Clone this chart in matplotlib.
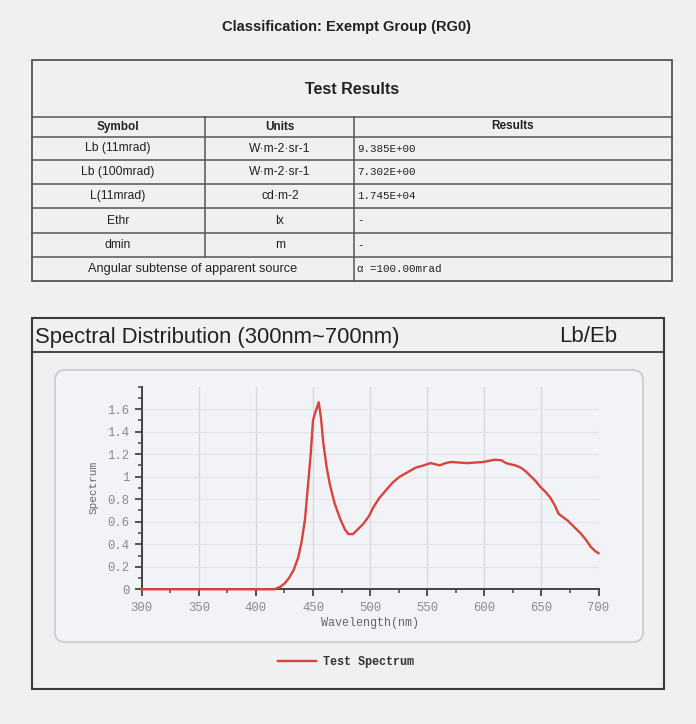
import numpy as np
import matplotlib.pyplot as plt
from matplotlib.patches import FancyBboxPatch, Rectangle
from matplotlib.ticker import MultipleLocator, FuncFormatter

# table contents
symbols = ["Lb (11mrad)", "Lb (100mrad)", "L(11mrad)", "Ethr", "dmin"]
units = ["W\u00b7m-2\u00b7sr-1", "W\u00b7m-2\u00b7sr-1", "cd\u00b7m-2", "lx", "m"]
results = ["9.385E+00", "7.302E+00", "1.745E+04", "-", "-"]
last_label = "Angular subtense of apparent source"
last_result = "\u03b1 =100.00mrad"

# spectrum
wavelength = [300, 320, 340, 360, 380, 400, 416, 421, 425, 429, 433, 437, 440,
              443, 445, 448, 450, 452, 455, 457, 459, 462, 465, 469, 474, 478,
              481, 485, 489, 494, 499, 503, 508, 514, 520, 526, 533, 540, 547,
              553, 557, 561, 566, 571, 578, 585, 592, 599, 604, 609, 615, 619,
              623, 627, 632, 636, 640, 645, 649, 654, 658, 662, 665, 669, 673,
              679, 684, 689, 693, 697, 700]
spectrum = [0.0, 0.0, 0.0, 0.0, 0.0, 0.0, 0.0, 0.02, 0.05, 0.1, 0.17, 0.28,
            0.42, 0.62, 0.85, 1.2, 1.5, 1.57, 1.66, 1.52, 1.3, 1.08, 0.92,
            0.76, 0.62, 0.53, 0.49, 0.49, 0.53, 0.58, 0.65, 0.73, 0.81, 0.88,
            0.95, 1.0, 1.04, 1.08, 1.1, 1.12, 1.11, 1.10, 1.12, 1.13, 1.125,
            1.12, 1.125, 1.13, 1.14, 1.15, 1.145, 1.12, 1.11, 1.10, 1.08,
            1.05, 1.01, 0.96, 0.91, 0.86, 0.81, 0.74, 0.67, 0.64, 0.61, 0.55,
            0.50, 0.44, 0.38, 0.34, 0.32]

W, H = 696, 724
bg_col = "#eff0f2"
line_col = "#555555"
txt_col = "#222222"
red = "#d8433c"

fig = plt.figure(figsize=(W / 100, H / 100), dpi=100, facecolor=bg_col)

# overlay in pixel coordinates for the document frame
bg = fig.add_axes([0, 0, 1, 1], zorder=0)
bg.set_xlim(0, W)
bg.set_ylim(H, 0)
bg.axis("off")

sans = "Liberation Sans"
mono = "Liberation Mono"

bg.text(347, 27, "Classification: Exempt Group (RG0)", ha="center", va="center",
        fontsize=10.5, fontweight="bold", family=sans, color=txt_col)

# table
tx0, tx1, ty0, ty1 = 32, 672, 60, 281
bg.add_patch(Rectangle((tx0, ty0), tx1 - tx0, ty1 - ty0, fill=False,
                       ec=line_col, lw=1.3))
row_lines = [117, 137, 160, 184, 208, 233, 257]
for y in row_lines:
    bg.plot([tx0, tx1], [y, y], color=line_col, lw=1.1)
bg.plot([205, 205], [117, 257], color=line_col, lw=1.1)
bg.plot([354, 354], [117, 281], color=line_col, lw=1.1)

bg.text(352, 89, "Test Results", ha="center", va="center", fontsize=11.5,
        fontweight="bold", family=sans, color=txt_col)
bg.text(118, 127, "Symbol", ha="center", va="center", fontsize=8.5,
        fontweight="bold", family=sans, color=txt_col)
bg.text(280, 127, "Units", ha="center", va="center", fontsize=8.5,
        fontweight="bold", family=sans, color=txt_col)
bg.text(513, 126, "Results", ha="center", va="center", fontsize=8.5,
        fontweight="bold", family=sans, color=txt_col)
for i in range(len(symbols)):
    yc = (row_lines[i + 1] + (row_lines[i + 2] if i + 2 < len(row_lines) else 257)) / 2
    bg.text(118, yc, symbols[i], ha="center", va="center", fontsize=8.7,
            family=sans, color=txt_col)
    bg.text(280, yc, units[i], ha="center", va="center", fontsize=8.7,
            family=sans, color=txt_col)
    bg.text(357, yc, results[i], ha="left", va="center", fontsize=7.8,
            family=mono, color=txt_col)
bg.text(193, 269, last_label, ha="center", va="center", fontsize=9.2,
        family=sans, color=txt_col)
bg.text(357, 269, last_result, ha="left", va="center", fontsize=7.8,
        family=mono, color=txt_col)

# chart frame
bg.add_patch(Rectangle((32, 318), 664 - 32, 689 - 318, fill=False,
                       ec="#3a3a3a", lw=1.5))
bg.plot([32, 664], [352, 352], color="#3a3a3a", lw=1.3)
bg.text(35, 337, "Spectral Distribution (300nm~700nm)", ha="left", va="center",
        fontsize=15.8, family=sans, color=txt_col)
bg.text(588, 337, "Lb/Eb", ha="center", va="center", fontsize=16,
        family=sans, color=txt_col)
bg.add_patch(FancyBboxPatch((55, 370), 643 - 55, 642 - 370,
                            boxstyle="round,pad=0,rounding_size=10",
                            fc="#f2f3f6", ec="#c9cacc", lw=1.2))

# spectrum axes
ax_l, ax_r, ax_t, ax_b = 141.7, 598.5, 386.5, 589.3
ax = fig.add_axes([ax_l / W, 1 - ax_b / H, (ax_r - ax_l) / W, (ax_b - ax_t) / H],
                  zorder=2)
ax.set_facecolor("none")
ax.plot(wavelength, spectrum, color=red, lw=1.7, label="Test Spectrum",
        clip_on=False, zorder=3)
ax.set_xlim(300, 700)
ax.set_ylim(0, 1.8)

ax.xaxis.set_major_locator(MultipleLocator(50))
ax.xaxis.set_minor_locator(MultipleLocator(25))
ax.yaxis.set_minor_locator(MultipleLocator(0.1))
ax.yaxis.set_major_formatter(FuncFormatter(lambda v, p: "%g" % round(v, 1)))
ax.set_yticks([0, 0.2, 0.4, 0.6, 0.8, 1.0, 1.2, 1.4, 1.6])

for s in ["top", "right"]:
    ax.spines[s].set_visible(False)
for s in ["left", "bottom"]:
    ax.spines[s].set_color("#444444")
    ax.spines[s].set_linewidth(1.4)

ax.grid(axis="x", which="major", color="#d6d7d9", lw=0.9)
ax.grid(axis="y", which="major", color="#e3e4e6", lw=0.8)
ax.tick_params(which="major", direction="out", length=5, width=1.3,
               color="#444444", labelsize=8.8, labelcolor="#8a8a8a", pad=4)
ax.tick_params(which="minor", direction="out", length=3, width=1.1,
               color="#444444")
for lab in ax.get_xticklabels() + ax.get_yticklabels():
    lab.set_family(mono)

ax.set_xlabel("Wavelength(nm)", family=mono, fontsize=8.5, color="#666666",
              labelpad=2)
ax.set_ylabel("Spectrum", family=mono, fontsize=8, color="#666666", labelpad=6)

fig.legend(loc="center", bbox_to_anchor=(346 / W, 1 - 662 / H), frameon=False,
           handlelength=3.2, handletextpad=0.6,
           prop={"family": mono, "size": 8.5, "weight": "bold"},
           labelcolor="#333333")

fig.savefig("out.png", dpi=100, facecolor=bg_col)
